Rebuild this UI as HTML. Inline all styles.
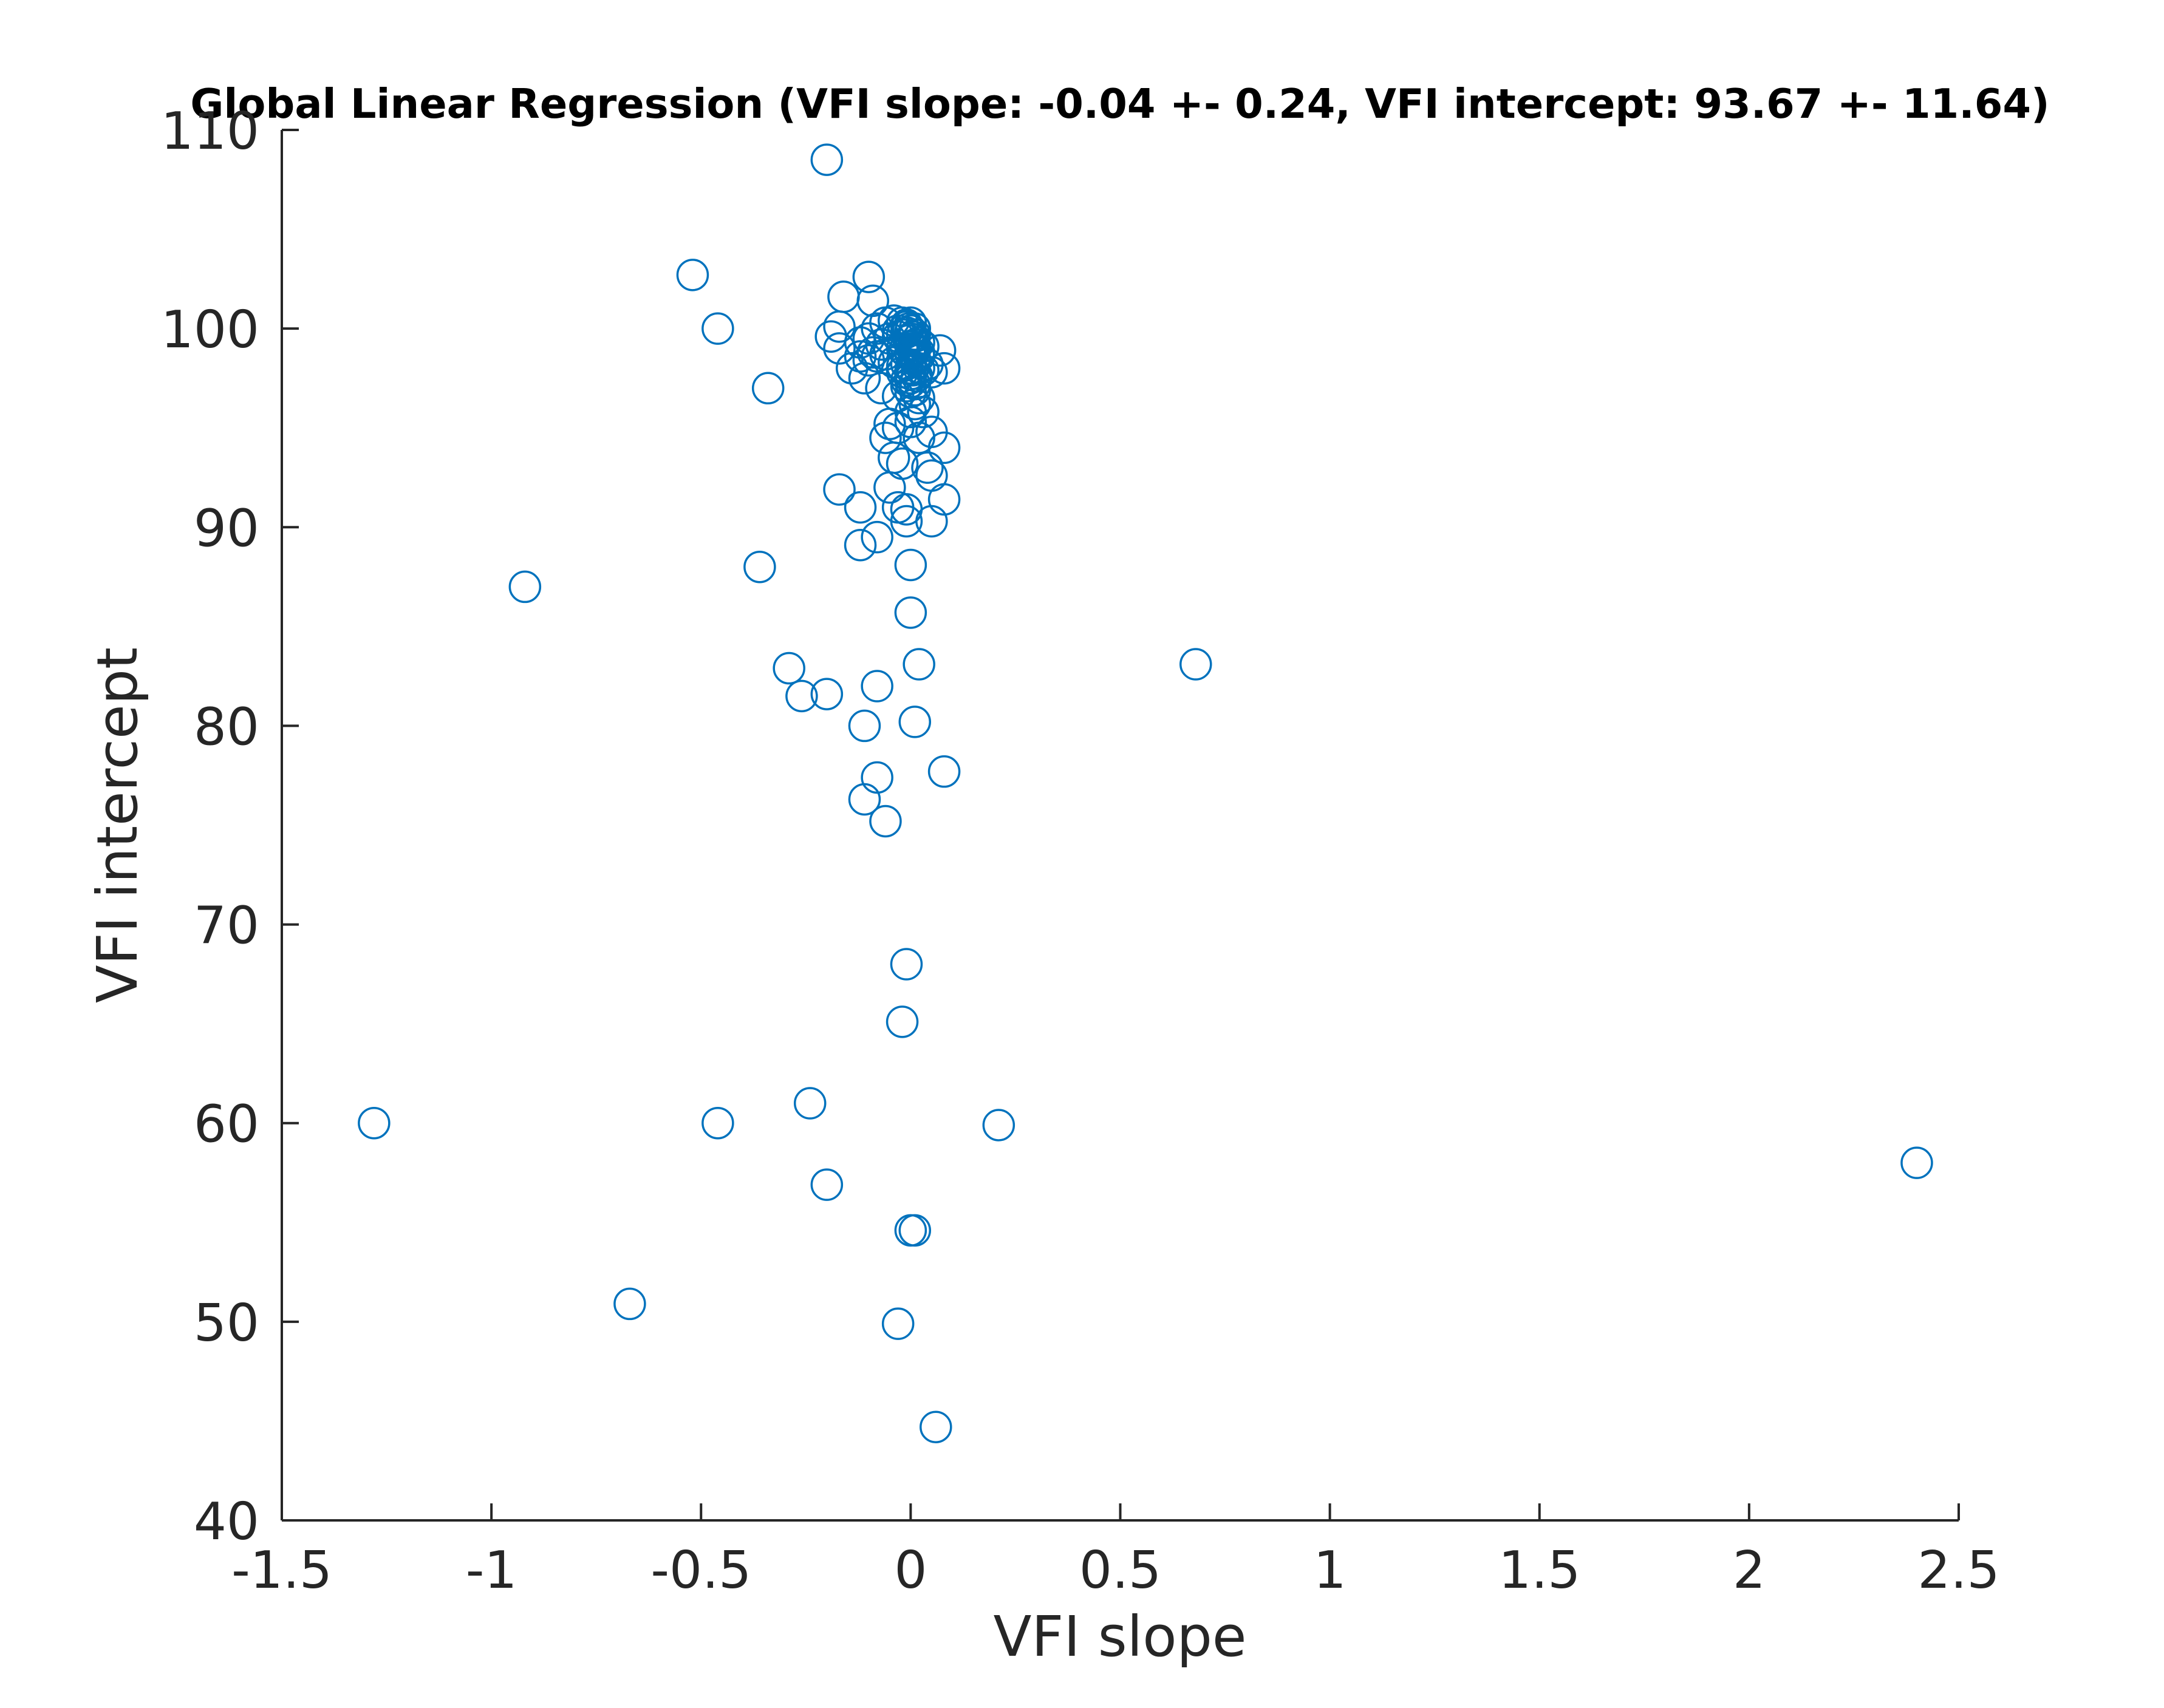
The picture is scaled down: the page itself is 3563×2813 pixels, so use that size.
<!DOCTYPE html>
<html><head><meta charset="utf-8"><style>
html,body{margin:0;padding:0;background:#fff;}
svg{display:block;}
text{font-family:"DejaVu Sans","Liberation Sans",sans-serif;fill:#262626;}
</style></head><body>
<svg id="chart" width="3563" height="2813" viewBox="0 0 3563 2813" xmlns="http://www.w3.org/2000/svg">
<rect x="0" y="0" width="3563" height="2813" fill="#fff"/>
<text x="1844" y="194" text-anchor="middle" font-size="67" font-weight="bold" style="fill:#000">Global Linear Regression (VFI slope: -0.04 +- 0.24, VFI intercept: 93.67 +- 11.64)</text>
<g id="axes"></g>
<g id="points"></g>
<text x="1844" y="2727" text-anchor="middle" font-size="92">VFI slope</text>
<text transform="translate(225,1359) rotate(-90)" text-anchor="middle" font-size="92">VFI intercept</text>
</svg>
<script>
const xTicks = [-1.5,-1,-0.5,0,0.5,1,1.5,2,2.5];
const xTickLabels = ["-1.5","-1","-0.5","0","0.5","1","1.5","2","2.5"];
const yTicks = [40,50,60,70,80,90,100,110];
const yTickLabels = ["40","50","60","70","80","90","100","110"];
const slopes = [-0.2,-0.52,-0.1,-0.16,-0.09,-0.46,-0.17,-0.19,-0.17,-0.14,-0.34,-0.11,-0.07,0.08,0.07,0.05,0.03,-0.05,-0.06,0.05,0.08,-0.04,-0.02,0.04,0.05,-0.17,-0.05,-0.12,-0.03,-0.01,0.05,0.08,-0.01,-0.12,-0.08,-0.92,-0.36,0,0,-0.29,-0.26,-0.2,-0.08,0.02,0.68,-0.11,0.01,-0.08,0.08,-0.11,-0.06,-0.01,-0.02,-1.28,-0.46,-0.24,0.21,2.4,-0.2,0,0.01,-0.67,-0.03,0.06,
-0.08,-0.06,-0.04,-0.02,0,0.01,-0.01,0,0.02,-0.03,-0.05,-0.07,-0.09,-0.12,-0.1,-0.12,-0.02,0,0.01,0.02,0,-0.01,0.01,0,0.02,-0.03,0.01,0,0.02,0.04,0.03,-0.06,-0.04,-0.03,0.01,-0.01,0,0.01,-0.02,0,0.03,-0.1,-0.08,0.02,0,-0.03,
-0.01,0,0.005,-0.005,0.01,-0.015,0,0.01,-0.01,0.005,-0.02,0.015,0,-0.01,0.01,-0.005,0.005,0,-0.02,0.02];
const intercepts = [108.5,102.7,102.6,101.6,101.4,100,100.1,99.6,99,98,97,97.5,97,98,98.9,97.8,95.8,95.2,94.5,94.8,94,93.5,93.2,93,92.6,91.9,92,91,91,90.9,90.3,91.4,90.3,89.1,89.5,87,88,88.1,85.7,82.9,81.5,81.6,82,83.1,83.1,80,80.2,77.4,77.7,76.3,75.2,68,65.1,60,60,61,59.9,58,56.9,54.6,54.6,50.9,49.9,44.7,
100,100.3,100.4,100.3,100.3,100,99.8,99.5,99.3,99.6,99.5,99.2,98.8,98.6,99.5,99.3,99,98.8,98.5,98,97.7,97.4,97.2,96.8,96.5,96.6,96.2,95.8,98.6,98.2,97.9,98.7,98.3,99.9,99.7,100.1,99.1,98.9,98.1,97.5,99.1,98.4,98.6,94.5,95.3,95.0,
100.2,99.9,99.6,99.4,99.2,98.9,98.7,98.4,98.2,97.9,97.8,97.6,97.3,97.1,96.9,100.0,99.0,98.0,99.7,98.8];

const L=464,R=3225,T=214,B=2504;
const X0=-1.5,X1=2.5,Y0=40,Y1=110;
function sx(v){return L+(v-X0)/(X1-X0)*(R-L);}
function sy(v){return B-(v-Y0)/(Y1-Y0)*(B-T);}
const NS="http://www.w3.org/2000/svg";
const axes=document.getElementById('axes');
function mk(tag,attrs,parent){const e=document.createElementNS(NS,tag);for(const k in attrs)e.setAttribute(k,attrs[k]);parent.appendChild(e);return e;}
const xl=mk('line',{x1:L,y1:B,x2:R,y2:B,stroke:'#262626','stroke-width':4},axes);


const yl=mk('line',{x1:L,y1:B,x2:L,y2:T,stroke:'#262626','stroke-width':4},axes);


xTicks.forEach((v,i)=>{
  const x=sx(v);
  const t=mk('line',{x1:x,y1:B,x2:x,y2:B-28,stroke:'#262626','stroke-width':4},axes);
  
  
  const tx=mk('text',{x:x,y:2615,'text-anchor':'middle','font-size':85},axes);
  tx.textContent=xTickLabels[i];
  
  
});
yTicks.forEach((v,i)=>{
  const y=sy(v);
  const t=mk('line',{x1:L,y1:y,x2:L+28,y2:y,stroke:'#262626','stroke-width':4},axes);
  
  
  const tx=mk('text',{x:427,y:y+31,'text-anchor':'end','font-size':85},axes);
  tx.textContent=yTickLabels[i];
  
  
});
const pts=document.getElementById('points');
slopes.forEach((s,i)=>{
  const c=mk('circle',{cx:sx(s),cy:sy(intercepts[i]),r:25,fill:'none',stroke:'#0072BD','stroke-width':3.5},pts);
  
  
});
</script>
</body></html>
